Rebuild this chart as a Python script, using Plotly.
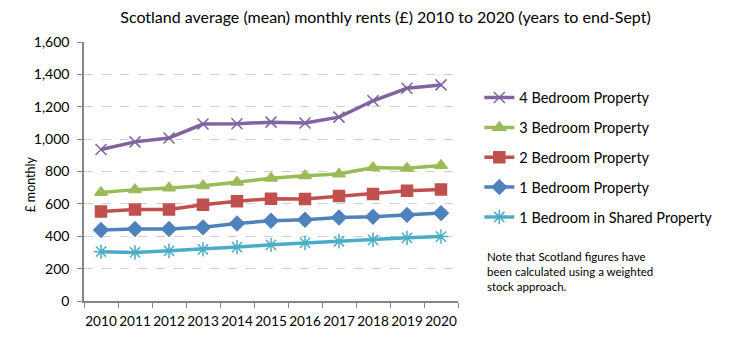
import plotly.graph_objects as go

years = ["2010", "2011", "2012", "2013", "2014", "2015", "2016", "2017", "2018", "2019", "2020"]
bed4 = [936, 983, 1007, 1093, 1095, 1105, 1100, 1136, 1237, 1314, 1335]
bed3 = [670, 688, 698, 712, 733, 759, 774, 784, 824, 820, 837]
bed2 = [553, 565, 565, 594, 616, 632, 630, 648, 661, 681, 689]
bed1 = [439, 445, 445, 455, 479, 496, 502, 516, 520, 532, 543]
shared = [305, 300, 310, 319, 333, 347, 359, 369, 378, 390, 398]

names = ["4 Bedroom Property", "3 Bedroom Property", "2 Bedroom Property",
         "1 Bedroom Property", "1 Bedroom in Shared Property"]
colors = ["#8064A2", "#9BBB59", "#C0504D", "#4F81BD", "#4BACC6"]
symbols = ["x-thin-open", "triangle-up", "square", "diamond", "asterisk-open"]
sizes = [11, 11, 11, 11, 12]
series = [bed4, bed3, bed2, bed1, shared]

fig = go.Figure()
for i, (nm, col, sym, sz, vals) in enumerate(zip(names, colors, symbols, sizes, series)):
    fig.add_trace(go.Scatter(
        x=years, y=vals, name=nm, mode="lines+markers",
        line=dict(color=col, width=3.5),
        marker=dict(symbol=sym, size=sz, color=col, line=dict(color=col, width=1.5)),
        legendgroup=f"g{i}",
    ))

fig.update_layout(
    width=726, height=350,
    margin=dict(l=76, r=276, t=34, b=57, autoexpand=False),
    paper_bgcolor="white", plot_bgcolor="white",
    title=dict(text="Scotland average (mean) monthly rents (£) 2010 to 2020 (years to end-Sept)",
               x=0.52, xanchor="center", y=0.972, yanchor="middle",
               font=dict(family="Lato", size=16, color="#000")),
    showlegend=True,
    legend=dict(x=1.057, xanchor="left", y=0.847, yanchor="top",
                font=dict(family="Lato", size=14.5, color="#000"),
                tracegroupgap=8, itemwidth=30, bgcolor="rgba(0,0,0,0)"),
    font=dict(family="Lato", size=13, color="#000"),
    annotations=[
        dict(text="Note that Scotland figures have<br>been calculated using a weighted<br>stock approach.",
             xref="paper", yref="paper", x=1.073, y=0.204, xanchor="left", yanchor="top",
             align="left", showarrow=False,
             font=dict(family="Lato", size=11.5, color="#000")),
        dict(text="£ monthly", xref="paper", yref="paper", x=-0.144, y=0.45,
             xanchor="center", yanchor="middle", textangle=-90, showarrow=False,
             font=dict(family="Lato", size=12.5, color="#000")),
    ],
)

fig.update_xaxes(
    type="category", range=[-0.5, 10.5], automargin=False,
    showline=True, linecolor="#868686", linewidth=1.5,
    ticks="outside", tickson="boundaries", ticklen=5, tickcolor="#868686",
    showgrid=False, ticklabelstandoff=7, tickangle=0,
    tickfont=dict(family="Lato", size=13.6),
)
fig.update_yaxes(
    range=[0, 1600], dtick=200, tickformat=",", automargin=False,
    showline=True, linecolor="#868686", linewidth=1.5,
    ticks="outside", ticklen=5, tickcolor="#868686",
    showgrid=True, gridcolor="#D0D0D0", griddash="dash", gridwidth=1,
    zeroline=False, ticklabelstandoff=5,
    tickfont=dict(family="Lato", size=14),
)

fig.write_html("out.html")
